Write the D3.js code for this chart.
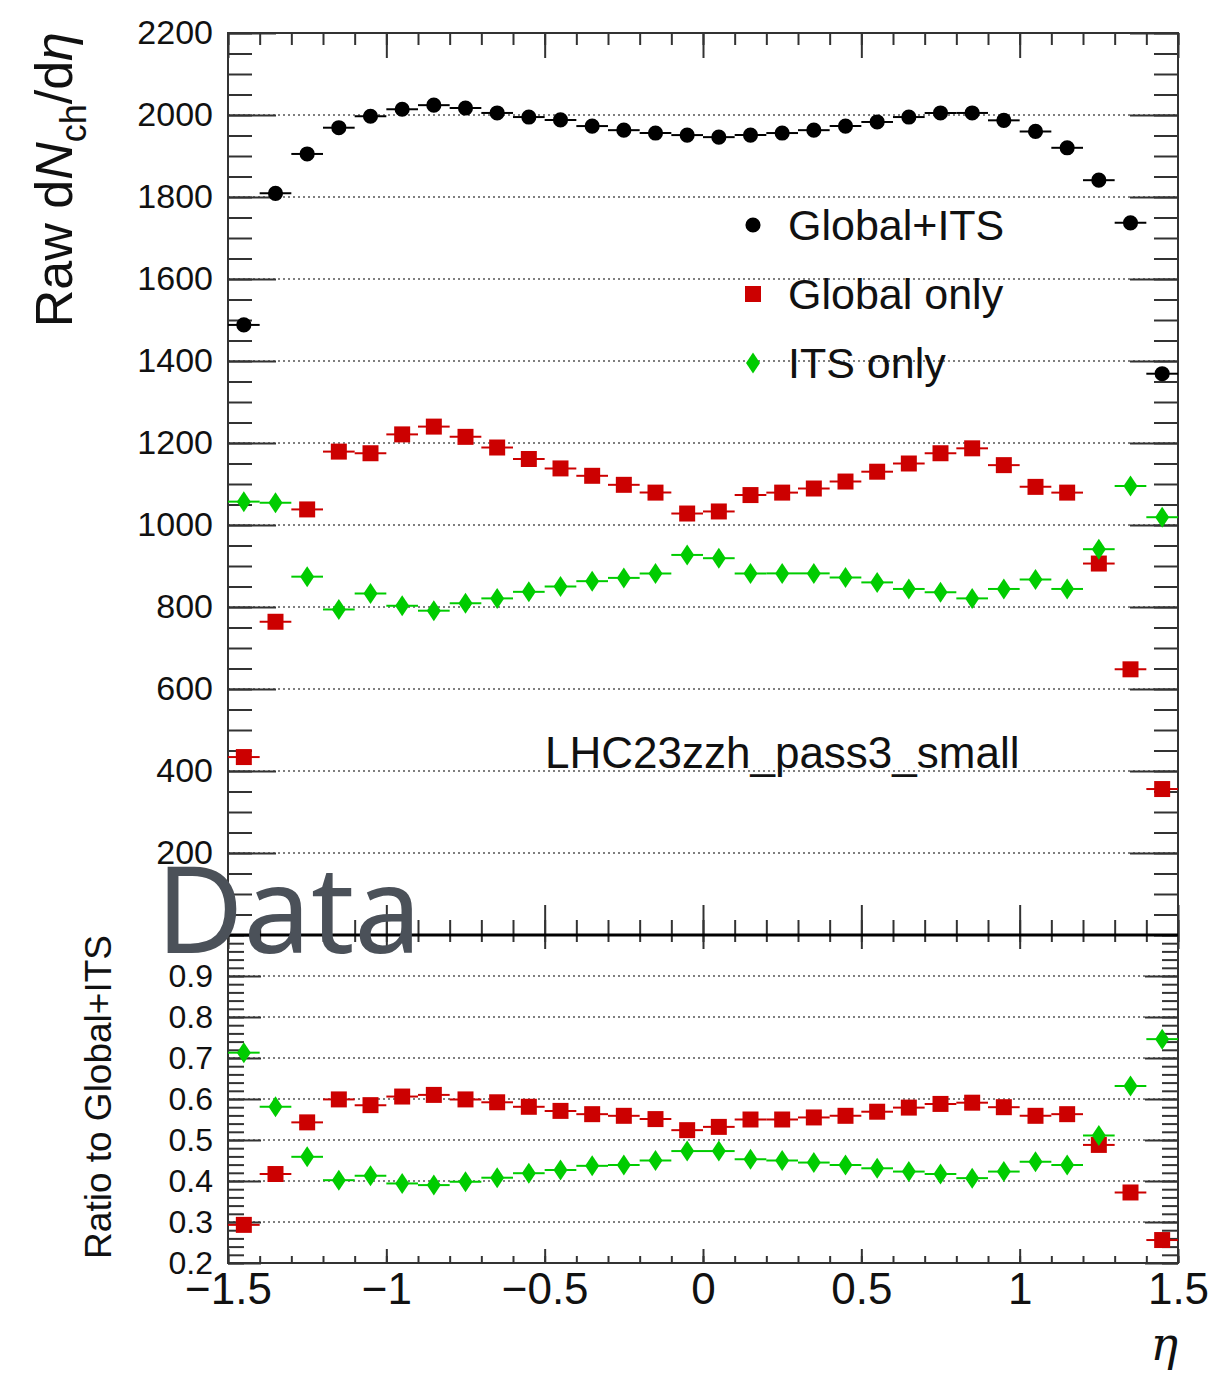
<!DOCTYPE html>
<html>
<head>
<meta charset="utf-8">
<script src="https://cdn.jsdelivr.net/npm/d3@7"></script>
<style>
  body { margin: 0; background: #fff; }
  svg text { font-family: "Liberation Sans", Arial, Helvetica, sans-serif; }
</style>
</head>
<body>
<svg id="chart" width="1215" height="1375"></svg>
<script>
// dN/deta per eta bin, three track selections + ratios to Global+ITS

const eta = [-1.45, -1.35, -1.25, -1.15, -1.05, -0.95, -0.85, -0.75, -0.65, -0.55,
             -0.45, -0.35, -0.25, -0.15, -0.05, 0.05, 0.15, 0.25, 0.35, 0.45,
             0.55, 0.65, 0.75, 0.85, 0.95, 1.05, 1.15, 1.25, 1.35, 1.45];
const binHalf = 0.05;

const globalITS  = [1488, 1809, 1905, 1969, 1997, 2014, 2024, 2017, 2005, 1995,
                    1988, 1973, 1963, 1956, 1951, 1946, 1951, 1956, 1963, 1973,
                    1983, 1995, 2005, 2005, 1987, 1960, 1920, 1841, 1737, 1369];
const globalOnly = [434, 764, 1038, 1179, 1175, 1221, 1240, 1215, 1189, 1161,
                    1138, 1120, 1098, 1079, 1028, 1033, 1073, 1079, 1089, 1106,
                    1130, 1150, 1175, 1187, 1146, 1093, 1079, 906, 648, 356];
const itsOnly    = [1057, 1054, 874, 794, 833, 803, 791, 809, 821, 837,
                    850, 863, 871, 882, 927, 919, 882, 882, 882, 872,
                    860, 844, 836, 821, 844, 867, 844, 941, 1095, 1019];

const ratioGlobal = [0.293, 0.417, 0.543, 0.599, 0.585, 0.606, 0.610, 0.599, 0.592, 0.581,
                     0.571, 0.563, 0.559, 0.551, 0.524, 0.532, 0.550, 0.550, 0.555, 0.559,
                     0.569, 0.579, 0.588, 0.591, 0.580, 0.559, 0.563, 0.488, 0.372, 0.256];
const ratioITS    = [0.713, 0.581, 0.459, 0.402, 0.413, 0.394, 0.390, 0.398, 0.408, 0.419,
                     0.427, 0.437, 0.439, 0.450, 0.473, 0.473, 0.453, 0.450, 0.445, 0.439,
                     0.431, 0.423, 0.417, 0.407, 0.423, 0.447, 0.439, 0.511, 0.632, 0.746];

const seriesNames = ["Global+ITS", "Global only", "ITS only"];
const xTicks      = [-1.5, -1, -0.5, 0, 0.5, 1, 1.5];
const xTickLabels = ["\u22121.5", "\u22121", "\u22120.5", "0", "0.5", "1", "1.5"];
const topTicks    = [200, 400, 600, 800, 1000, 1200, 1400, 1600, 1800, 2000, 2200];
const botTicks    = [0.2, 0.3, 0.4, 0.5, 0.6, 0.7, 0.8, 0.9];
const periodLabel = "LHC23zzh_pass3_small";

// ---- layout
const L = 228, R = 1178, T = 33, MID = 935, B = 1263;
const frameCol = "#333";
const red = "#cc0000", green = "#00cc00";

const svg = d3.select("#chart");

const x    = d3.scaleLinear().domain([-1.5, 1.5]).range([L, R]);
const yTop = d3.scaleLinear().domain([0, 2200]).range([MID, T]);
const yBot = d3.scaleLinear().domain([0.2, 1.0]).range([B, MID]);

const xMinor    = d3.range(-1.5, 1.5001, 0.1);
const topMinor  = d3.range(0, 2201, 50);
const botMinor  = d3.range(0.2, 1.0001, 0.02);

// ---- gridlines (dotted)
function grid(scale, vals) {
  svg.append("g").selectAll("line").data(vals).join("line")
    .attr("x1", L).attr("x2", R)
    .attr("y1", d => scale(d)).attr("y2", d => scale(d))
    .attr("stroke", "#555").attr("stroke-width", 1.5)
    .attr("stroke-dasharray", "2,3");
}
grid(yTop, topTicks.filter(d => d < 2200));
grid(yBot, botTicks.filter(d => d > 0.2));

// ---- axes helper
function axis(gen, tx, ty, size, vals, fmt, fontSize, pad) {
  const g = svg.append("g").attr("transform", `translate(${tx},${ty})`)
    .call(gen.tickValues(vals).tickSize(size).tickPadding(pad || 3)
      .tickFormat(fmt || (() => "")));
  g.select(".domain").remove();
  g.selectAll(".tick line").attr("stroke", frameCol).attr("stroke-width", 2);
  g.selectAll(".tick text").attr("fill", "#111")
    .attr("font-size", fontSize || 10)
    .style("font-family", '"Liberation Sans", Arial, sans-serif');
  return g;
}

// top panel y axes
axis(d3.axisLeft(yTop), L, 0, -24, topMinor);
axis(d3.axisLeft(yTop), L, 0, -48, topTicks, d => d, 34, 15);
axis(d3.axisRight(yTop), R, 0, -24, topMinor);
axis(d3.axisRight(yTop), R, 0, -48, topTicks);
// top panel x ticks
axis(d3.axisTop(x), 0, T, -12, xMinor);
axis(d3.axisTop(x), 0, T, -25, xTicks);
axis(d3.axisBottom(x), 0, MID, -15, xMinor);
axis(d3.axisBottom(x), 0, MID, -30, xTicks);

// bottom panel y axes
axis(d3.axisLeft(yBot), L, 0, -16, botMinor);
axis(d3.axisLeft(yBot), L, 0, -33, botTicks, d => d.toFixed(1), 32, 15);
axis(d3.axisRight(yBot), R, 0, -16, botMinor);
axis(d3.axisRight(yBot), R, 0, -33, botTicks);
// bottom panel x ticks
axis(d3.axisTop(x), 0, MID, -7, xMinor);
axis(d3.axisTop(x), 0, MID, -14, xTicks);
axis(d3.axisBottom(x), 0, B, -7, xMinor);
const xa = axis(d3.axisBottom(x), 0, B, -14, xTicks,
  d => xTickLabels[xTicks.indexOf(d)], 44, 10);

// ---- frames
svg.append("rect").attr("x", L).attr("y", T).attr("width", R - L).attr("height", MID - T)
  .attr("fill", "none").attr("stroke", frameCol).attr("stroke-width", 2);
svg.append("rect").attr("x", L).attr("y", MID).attr("width", R - L).attr("height", B - MID)
  .attr("fill", "none").attr("stroke", frameCol).attr("stroke-width", 2);
svg.append("line").attr("x1", L).attr("x2", R).attr("y1", MID).attr("y2", MID)
  .attr("stroke", "#000").attr("stroke-width", 3);

// ---- markers
const diamond = "M0,-10.5L7,0L0,10.5L-7,0Z";
const square  = d3.symbol().type(d3.symbolSquare).size(256)();
const circle  = d3.symbol().type(d3.symbolCircle).size(180)();

function series(vals, yScale, color, shape) {
  const g = svg.append("g");
  g.selectAll("line").data(vals).join("line")
    .attr("x1", (d, i) => x(eta[i] - binHalf))
    .attr("x2", (d, i) => x(eta[i] + binHalf))
    .attr("y1", d => yScale(d)).attr("y2", d => yScale(d))
    .attr("stroke", color).attr("stroke-width", 2);
  g.selectAll("path").data(vals).join("path")
    .attr("d", shape)
    .attr("transform", (d, i) => `translate(${x(eta[i])},${yScale(d)})`)
    .attr("fill", color);
}
series(globalITS, yTop, "#000", circle);
series(globalOnly, yTop, red, square);
series(itsOnly, yTop, green, diamond);
series(ratioGlobal, yBot, red, square);
series(ratioITS, yBot, green, diamond);

// ---- legend
const legColors = ["#000", red, green];
const legShapes = [circle, square, diamond];
seriesNames.forEach((name, i) => {
  const cy = 225 + i * 69;
  svg.append("path").attr("d", legShapes[i])
    .attr("transform", `translate(753,${cy})`).attr("fill", legColors[i]);
  svg.append("text").attr("x", 788).attr("y", cy + 15)
    .attr("font-size", 43).attr("fill", "#111").text(name);
});

svg.append("text").attr("x", 545).attr("y", 768)
  .attr("font-size", 44).attr("fill", "#111").text(periodLabel);

// ---- axis titles
const yt = svg.append("text")
  .attr("transform", "translate(72,32) rotate(-90)")
  .attr("text-anchor", "end").attr("font-size", 52).attr("fill", "#111");
yt.append("tspan").text("Raw d");
yt.append("tspan").attr("font-style", "italic").text("N");
yt.append("tspan").attr("font-size", 36).attr("dy", 14).text("ch");
yt.append("tspan").attr("dy", -14).text("/d");
yt.append("tspan").attr("font-style", "italic").text("\u03b7");

svg.append("text")
  .attr("transform", "translate(111,935) rotate(-90)")
  .attr("text-anchor", "end").attr("font-size", 37).attr("fill", "#111")
  .text("Ratio to Global+ITS");

svg.append("text").attr("x", 1178).attr("y", 1360)
  .attr("text-anchor", "end").attr("font-size", 46).attr("font-style", "italic")
  .style("font-family", '"DejaVu Serif", "Liberation Serif", serif')
  .attr("fill", "#111").text("\u03b7");

// ---- watermark
svg.append("text").attr("x", 156).attr("y", 953)
  .attr("font-size", 120).attr("fill", "#4b5159")
  .style("font-family", '"Noto Sans", "Open Sans", sans-serif')
  .text("Data");
</script>
</body>
</html>
